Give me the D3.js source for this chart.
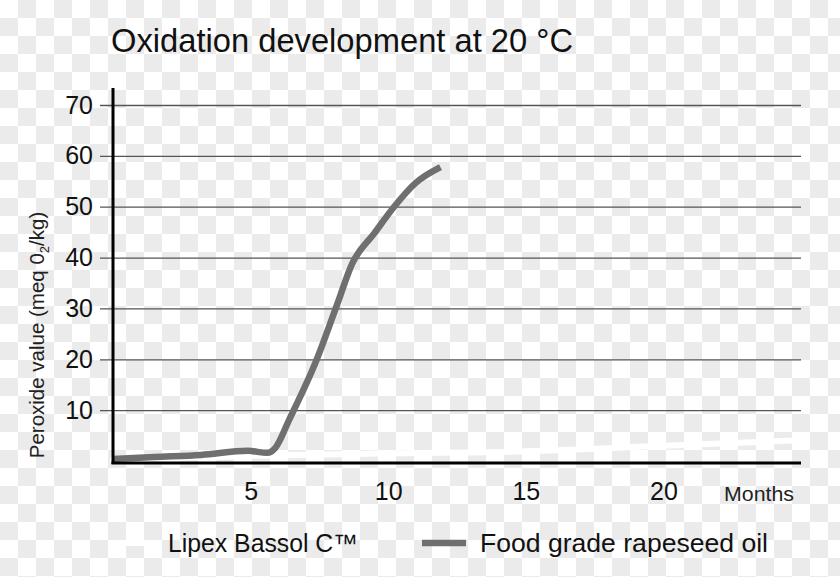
<!DOCTYPE html>
<html><head><meta charset="utf-8">
<script src="https://cdn.jsdelivr.net/npm/d3@7"></script>
<style>html,body{margin:0;padding:0;background:#fff}svg{display:block;font-family:"Liberation Sans",Arial,sans-serif}</style>
</head><body>
<svg id="c" width="840" height="577"></svg>
<script>
const title = "Oxidation development at 20 °C";
const yTicks = [10, 20, 30, 40, 50, 60, 70];
const xTicks = [5, 10, 15, 20];
const rapeseedMonths = [0, 1.5, 3.2, 4.9, 5.6, 5.9, 6.4, 7.4, 8.1, 8.7, 9.5, 10.2, 11.0, 11.9];
const rapeseedValues = [0.4, 0.8, 1.2, 2.0, 1.6, 2.6, 8.1, 19.9, 30.1, 38.9, 44.8, 49.9, 54.7, 57.8];
const lipexMonths = [0, 5, 10, 15, 20, 25];
const lipexValues = [0.3, 1.0, 1.5, 1.9, 3.0, 4.1];
const legendLabels = ["Lipex Bassol C\u2122", "Food grade rapeseed oil"];

const svg = d3.select("#c");
const defs = svg.append("defs");
const pat = defs.append("pattern").attr("id","chk").attr("width",36).attr("height",36).attr("patternUnits","userSpaceOnUse");
pat.append("rect").attr("width",36).attr("height",36).attr("fill","#ffffff");
pat.append("rect").attr("x",18).attr("y",0).attr("width",18).attr("height",18).attr("fill","#ebebeb");
pat.append("rect").attr("x",0).attr("y",18).attr("width",18).attr("height",18).attr("fill","#ebebeb");
svg.append("rect").attr("width",840).attr("height",577).attr("fill","url(#chk)");

const x = d3.scaleLinear().domain([0, 25]).range([113, 801]);
const y = d3.scaleLinear().domain([0, 70]).range([461, 105]);

svg.append("text").attr("x",111).attr("y",52).attr("font-size",32.5).attr("fill","#111")
  .attr("textLength",462).attr("lengthAdjust","spacingAndGlyphs").text(title);

const yAxis = d3.axisLeft(y).tickValues(yTicks).tickSize(13).tickPadding(7);
const gy = svg.append("g").attr("transform","translate(113,0)").call(yAxis);
gy.select(".domain").remove();
gy.selectAll(".tick line").attr("x2",688).attr("x1",-13).attr("stroke","#555").attr("stroke-width",1.3);
gy.selectAll(".tick text").attr("font-size",25).attr("fill","#111").attr("font-family","Liberation Sans, Arial, sans-serif");

const xAxis = d3.axisBottom(x).tickValues(xTicks).tickSize(0).tickPadding(19);
const gx = svg.append("g").attr("transform","translate(0,463)").call(xAxis);
gx.select(".domain").remove();
gx.selectAll(".tick text").attr("font-size",25).attr("fill","#111").attr("font-family","Liberation Sans, Arial, sans-serif");
svg.append("text").attr("x",794).attr("y",501).attr("text-anchor","end").attr("font-size",20.5).attr("fill","#222")
  .attr("textLength",70).attr("lengthAdjust","spacingAndGlyphs").text("Months");

const line = d3.line().x(d=>x(d[0])).y(d=>y(d[1])).curve(d3.curveMonotoneX);
svg.append("path").datum(lipexMonths.map((m,i)=>[m,lipexValues[i]]))
  .attr("d",line).attr("fill","none").attr("stroke","#ffffff").attr("stroke-width",6).attr("stroke-linecap","round");
svg.append("path").datum(rapeseedMonths.map((m,i)=>[m,rapeseedValues[i]]))
  .attr("d",line)
  .attr("fill","none").attr("stroke","#6f6f6f").attr("stroke-width",6.5).attr("stroke-linecap","butt");

svg.append("line").attr("x1",113).attr("x2",113).attr("y1",88).attr("y2",464).attr("stroke","#000").attr("stroke-width",3);
svg.append("line").attr("x1",111.5).attr("x2",801).attr("y1",463).attr("y2",463).attr("stroke","#000").attr("stroke-width",3);

const yl = svg.append("text").attr("transform","translate(44,335) rotate(-90)").attr("text-anchor","middle")
  .attr("font-size",20.5).attr("fill","#222");
yl.append("tspan").text("Peroxide value (meq 0");
yl.append("tspan").attr("font-size",13).attr("dy",5).text("2");
yl.append("tspan").attr("dy",-5).text("/kg)");

svg.append("line").attr("x1",110).attr("x2",155).attr("y1",543).attr("y2",543).attr("stroke","#ffffff").attr("stroke-width",6);
svg.append("text").attr("x",168).attr("y",552).attr("font-size",25).attr("fill","#111")
  .attr("textLength",190).attr("lengthAdjust","spacingAndGlyphs").text(legendLabels[0]);
svg.append("line").attr("x1",422).attr("x2",466).attr("y1",543).attr("y2",543).attr("stroke","#6f6f6f").attr("stroke-width",6.5);
svg.append("text").attr("x",480).attr("y",552).attr("font-size",25).attr("fill","#111")
  .attr("textLength",288).attr("lengthAdjust","spacingAndGlyphs").text(legendLabels[1]);
</script>
</body></html>
